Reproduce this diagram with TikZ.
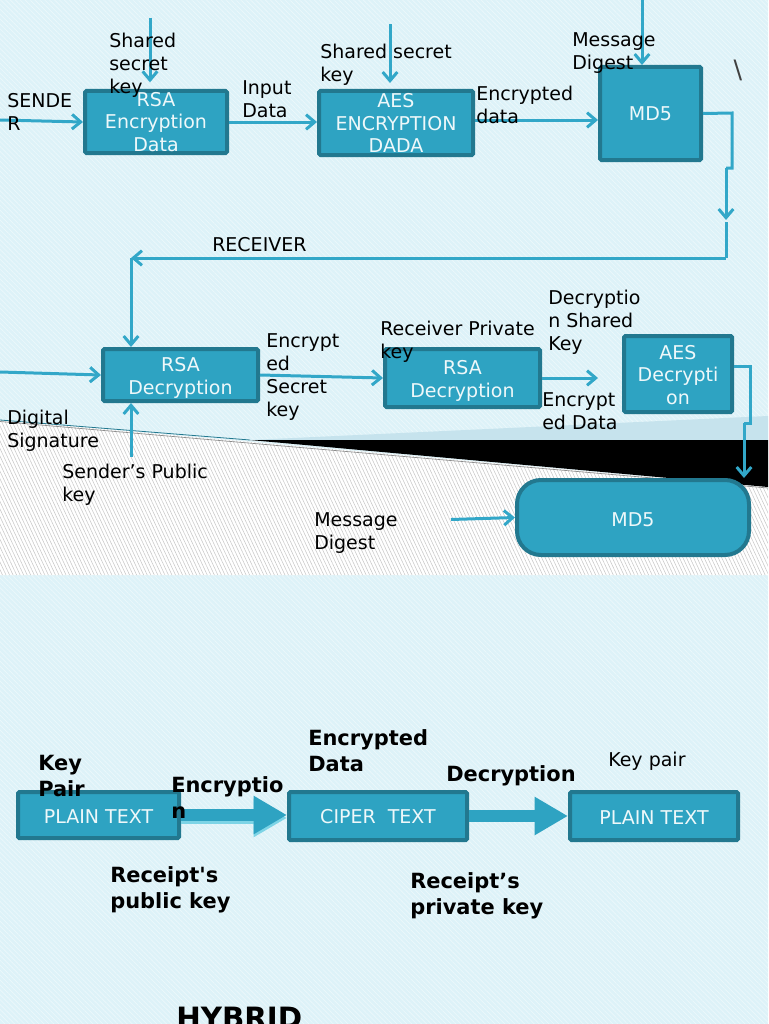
\documentclass[tikz,border=0pt]{standalone}
\usepackage{fontspec}
\setmainfont{DejaVu Sans}
\usetikzlibrary{arrows.meta,patterns.meta}
\definecolor{pagebg}{RGB}{221,242,248}
\definecolor{boxfill}{RGB}{46,163,194}
\definecolor{boxline}{RGB}{34,120,143}
\definecolor{wire}{RGB}{50,167,200}
\definecolor{wirelight}{RGB}{125,212,230}
\definecolor{band}{RGB}{198,227,237}
\newcommand{\nudge}[1]{\rule{0pt}{#1}}
\tikzset{%
  block/.style = { draw=boxline, fill=boxfill, line width=3pt, rounded corners=1pt, text=white!92!boxfill, align=center, inner sep=0pt,
    font=\fontsize{14.25}{17}\selectfont },
  wirearrow/.style = { draw=wire, line width=2.25pt, -{Straight Barb[length=6.5pt,width=11pt]} },
  wireplain/.style = { draw=wire, line width=2.25pt },
  fatarrow/.style = { draw=boxfill, line width=9pt, -{Triangle[length=25pt,width=27pt]} },
  txt/.style = { anchor=north west, inner sep=0pt, align=left, text=black, font=\fontsize{14.25}{17.25}\selectfont },
  boldtxt/.style = { anchor=north west, inner sep=0pt, align=left, text=black, font=\fontsize{15.7}{19.5}\selectfont\bfseries }
}
\begin{document}
\begin{tikzpicture}[x=0.75pt,y=-0.75pt]

  \useasboundingbox (0,0) rectangle (768,1024);
  \clip (0,0) rectangle (768,1024);

  % Background
  \fill[pagebg] (0,0) rectangle (768,1024);
  \fill[pattern={Lines[angle=-45,distance=2.6pt,line width=0.5pt]},pattern color=white!45!pagebg] (0,0) rectangle (768,1024);

  % Lower band
  \fill[white] (0,420) -- (768,487) -- (768,575) -- (0,575) -- cycle;
  \fill[pattern={Lines[angle=-65,distance=2.4pt,line width=0.4pt]},pattern color=black!22] (0,420) -- (768,487) -- (768,575) -- (0,575) -- cycle;
  \fill[band] (250,440) -- (768,416) -- (768,440) -- cycle;
  \fill[black] (250,440) -- (768,440) -- (768,487) -- cycle;
  \draw[boxline,line width=0.6pt] (0,420) -- (250,440);
  \draw[black!45,line width=0.5pt] (0,421.5) -- (768,488);

  % Sender row
  \node[block,minimum width=106.5pt,minimum height=46.5pt] (rsaenc) at (156,122) {RSA\\Encryption\\Data};
  \node[block,minimum width=115.5pt,minimum height=48pt] (aesenc) at (396,123) {AES\\ENCRYPTION\\DADA};
  \node[block,minimum width=75.75pt,minimum height=69.75pt] (mdfirst) at (650.5,113.5) {MD5};

  % Receiver row
  \node[block,minimum width=116.25pt,minimum height=39pt] (rsadec) at (180.5,375) {\nudge{15pt}RSA\\Decryption};
  \node[block,minimum width=116.25pt,minimum height=43.5pt] (rsadectwo) at (462.5,378) {\nudge{15pt}RSA\\Decryption};
  \node[block,minimum width=81pt,minimum height=57pt] (aesdec) at (678,374) {\nudge{12pt}AES\\Decrypti\\on};
  \node[block,rounded corners=18pt,minimum width=174pt,minimum height=56.25pt] (mdsecond) at (633,517.5) {\nudge{13.4pt}MD5};

  % Hybrid row
  \node[block,minimum width=120.75pt,minimum height=34.5pt] (plainleft) at (98.5,815) {\nudge{12pt}PLAIN TEXT};
  \node[block,minimum width=133.5pt,minimum height=36pt] (ciper) at (378,816) {\nudge{12pt}CIPER\ \ TEXT};
  \node[block,minimum width=126pt,minimum height=36pt] (plainright) at (654,816) {\nudge{12pt}PLAIN TEXT};

  % Free ends
  \coordinate (senderin) at (0,120);
  \coordinate (sharedin) at (150,18);
  \coordinate (secretin) at (390,24);
  \coordinate (digestin) at (642,0);
  \coordinate (bendtop) at (732,113);
  \coordinate (bendmid) at (732,168);
  \coordinate (bendlow) at (726,168);
  \coordinate (wraptop) at (726,222);
  \coordinate (wrapend) at (726,258);
  \coordinate (wrapleft) at (131,258);
  \coordinate (signin) at (0,372);
  \coordinate (pubin) at (131,457);
  \coordinate (dataout) at (598,378);
  \coordinate (aesbend) at (750,366);
  \coordinate (aesmid) at (750,423);
  \coordinate (aeslow) at (744,423);
  \coordinate (digestlow) at (451,519.5);

  % Sender wires
  \draw[wirearrow] (senderin) -- (rsaenc.west);
  \draw[wirearrow,shorten >=5pt] (sharedin) -- (sharedin |- rsaenc.north);
  \draw[wirearrow] (rsaenc.east) -- (rsaenc.east -| aesenc.west);
  \draw[wirearrow,shorten >=4.5pt] (secretin) -- (secretin |- aesenc.north);
  \draw[wirearrow] ([shift={(0,-3)}]aesenc.east) -- ([shift={(0,6.5)}]mdfirst.west);
  \draw[wirearrow] (digestin) -- (digestin |- mdfirst.north);
  \draw[wireplain] (mdfirst.east) -- (bendtop) -- (bendmid) -- (bendlow);
  \draw[wirearrow] (bendlow) -- ([shift={(0,-2)}]wraptop);
  \draw[wireplain] (wraptop) -- (wrapend);
  \draw[wirearrow] (wrapend) -- (wrapleft);

  % Receiver wires
  \draw[wirearrow] (wrapleft) -- (wrapleft |- rsadec.north);
  \draw[wirearrow] (signin) -- (rsadec.west);
  \draw[wirearrow] (pubin) -- (pubin |- rsadec.south);
  \draw[wirearrow] (rsadec.east) -- (rsadectwo.west);
  \draw[wirearrow] (rsadectwo.east) -- (dataout);
  \draw[wireplain] ([shift={(0,-8)}]aesdec.east) -- (aesbend) -- (aesmid) -- (aeslow);
  \draw[wirearrow] (aeslow) -- (aeslow |- mdsecond.north);
  \draw[wirearrow] (digestlow) -- (mdsecond.west);

  % Hybrid arrows
  \draw[fatarrow,draw=wirelight] ([shift={(0,3)}]plainleft.east) -- ([shift={(0,2)}]ciper.west);
  \draw[fatarrow] (plainleft.east) -- (plainleft.east -| ciper.west);
  \draw[fatarrow] (ciper.east) -- (plainright.west);

  % Labels
  \node[txt] (lblshared) at (109,32.5) {Shared\\secret\\key};
  \node[txt] (lblsender) at (7,93) {SENDE\\R};
  \node[txt] (lblinput) at (242,80) {Input\\Data};
  \node[txt] (lblsecret) at (320,44) {Shared secret\\key};
  \node[txt] (lblencdata) at (476,86) {Encrypted\\data};
  \node[txt] (lbldigest) at (572,32) {Message\\Digest};
  \node[text=black!75,inner sep=0pt,font=\fontsize{19}{23}\selectfont] (lblslash) at (738,70) {\textbackslash};
  \node[txt] (lblreceiver) at (212,237) {RECEIVER};
  \node[txt] (lblencsecret) at (266,333) {Encrypt\\ed\\Secret\\key};
  \node[txt] (lblprivate) at (380,321) {Receiver Private\\key};
  \node[txt] (lbldecshared) at (548,290) {Decryptio\\n Shared\\Key};
  \node[txt] (lblencrypted) at (542,392) {Encrypt\\ed Data};
  \node[txt] (lblsignature) at (7,410) {Digital\\Signature};
  \node[txt] (lblpublic) at (62,464) {Sender’s Public\\key};
  \node[txt] (lbldigesttwo) at (314,512) {Message\\Digest};
  \node[txt] (lblkeypair) at (608,752) {Key pair};

  % Bold labels
  \node[boldtxt] (lblkey) at (38,755) {Key\\Pair};
  \node[boldtxt] (lblencryption) at (171,776) {Encryptio\\n};
  \node[boldtxt] (lblencrypteddata) at (308,729) {Encrypted\\Data};
  \node[boldtxt] (lbldecryption) at (446,765) {Decryption};
  \node[boldtxt] (lblreceipt) at (110,866) {Receipt\textquotesingle s\\public key};
  \node[boldtxt] (lblreceipttwo) at (410,872) {Receipt’s\\private key};
  \node[anchor=north west,inner sep=0pt,font=\fontsize{22}{26}\selectfont\bfseries] (lblhybrid) at (176,1007) {HYBRID};

\end{tikzpicture}
\end{document}
